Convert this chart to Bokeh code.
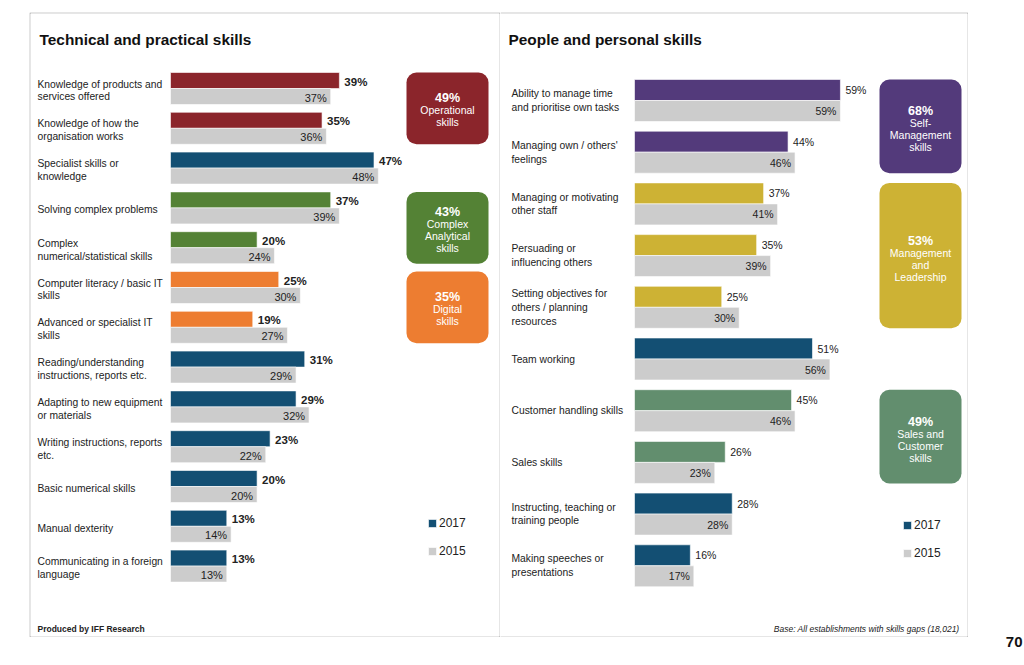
from bokeh.plotting import figure
from bokeh.models import Range1d, Legend, LegendItem
from bokeh.layouts import row
from bokeh.embed import file_html
from bokeh.resources import INLINE
from bokeh.core.properties import value

# ---------------- DATA ----------------
left_title = "Technical and practical skills"
left_categories = [
    "Knowledge of products and\nservices offered",
    "Knowledge of how the\norganisation works",
    "Specialist skills or\nknowledge",
    "Solving complex problems",
    "Complex\nnumerical/statistical skills",
    "Computer literacy / basic IT\nskills",
    "Advanced or specialist IT\nskills",
    "Reading/understanding\ninstructions, reports etc.",
    "Adapting to new equipment\nor materials",
    "Writing instructions, reports\netc.",
    "Basic numerical skills",
    "Manual dexterity",
    "Communicating in a foreign\nlanguage",
]
left_2017 = [39, 35, 47, 37, 20, 25, 19, 31, 29, 23, 20, 13, 13]
left_2015 = [37, 36, 48, 39, 24, 30, 27, 29, 32, 22, 20, 14, 13]
left_group_values = [49, 43, 35]
left_group_names = ["Operational\nskills", "Complex\nAnalytical\nskills", "Digital\nskills"]
left_group_rows = [(0, 1), (3, 4), (5, 6)]
left_footer = "Produced by IFF Research"

right_title = "People and personal skills"
right_categories = [
    "Ability to manage time\nand prioritise own tasks",
    "Managing own / others'\nfeelings",
    "Managing or motivating\nother staff",
    "Persuading or\ninfluencing others",
    "Setting objectives for\nothers / planning\nresources",
    "Team working",
    "Customer handling skills",
    "Sales skills",
    "Instructing, teaching or\ntraining people",
    "Making speeches or\npresentations",
]
right_2017 = [59, 44, 37, 35, 25, 51, 45, 26, 28, 16]
right_2015 = [59, 46, 41, 39, 30, 56, 46, 23, 28, 17]
right_group_values = [68, 53, 49]
right_group_names = ["Self-\nManagement\nskills", "Management\nand\nLeadership", "Sales and\nCustomer\nskills"]
right_group_rows = [(0, 1), (2, 4), (6, 7)]
right_footer = "Base: All establishments with skills gaps (18,021)"

series_names = ["2017", "2015"]
page_number = "70"

# ---------------- STYLES ----------------
FONT = "Liberation Sans"
RED = "#8B252B"
BLUE = "#134F73"
GREEN = "#548235"
ORANGE = "#ED7D31"
PURPLE = "#533A7B"
MUSTARD = "#CDB234"
SAGE = "#628E6E"
GRAY = "#CCCCCC"
TXT = "#222222"
BORDER = "#999999"

left_colors = [RED, RED, BLUE, GREEN, GREEN, ORANGE, ORANGE, BLUE, BLUE, BLUE, BLUE, BLUE, BLUE]
left_group_colors = [RED, GREEN, ORANGE]
right_colors = [PURPLE, PURPLE, MUSTARD, MUSTARD, MUSTARD, BLUE, SAGE, SAGE, BLUE, BLUE]
right_group_colors = [PURPLE, MUSTARD, SAGE]

left_geom = dict(fig_w=471, fig_h=625, mbl=1, frame_left=30, frame_top=13, frame_w=469, frame_h=623,
                 bar0=170, ppp=4.33, row0=88, pitch=39.8, bar_px=16,
                 label_x=37, label_size="10.3px", label_lh=1.17, label_dy=2,
                 v17_off=5, v17_size="11.5px", v17_style="bold", v15_off=-4, val_size="11px", val_dy=1,
                 title_x=39, title_y=39, footer_x=37, footer_y=628, footer_align="left", footer_style="bold",
                 box_x0=406, box_x1=488, box_dy=2, legend_loc=(397, 78), legend_index=2,
                 margin=(12, 0, 28, 29))
right_geom = dict(fig_w=468, fig_h=625, mbl=0, frame_left=500, frame_top=13, frame_w=467, frame_h=623,
                  bar0=634, ppp=3.49, row0=100, pitch=51.7, bar_px=21,
                  label_x=511, label_size="10.3px", label_lh=1.25, label_dy=0,
                  v17_off=5, v17_size="10.5px", v17_style="normal", v15_off=-4, val_size="10.5px", val_dy=0,
                  title_x=508, title_y=39, footer_x=959, footer_y=628, footer_align="right", footer_style="italic",
                  box_x0=879, box_x1=961, box_dy=3, legend_loc=(402, 76), legend_index=5,
                  margin=(12, 0, 28, 0))


def build_panel(title, cats, v17, v15, cols, gvals, gnames, grows, gcols, footer, g):
    b0, ppp, r0, pitch = g["bar0"], g["ppp"], g["row0"], g["pitch"]

    def dx(px):
        return (px - b0) / ppp

    def dy(py):
        return (py - r0) / pitch

    fl, ft, fw, fh = g["frame_left"], g["frame_top"], g["frame_w"], g["frame_h"]
    p = figure(width=g["fig_w"], height=g["fig_h"], title=None,
               x_range=Range1d(dx(fl), dx(fl + fw)),
               y_range=Range1d(dy(ft + fh), dy(ft)),
               output_backend="svg", toolbar_location=None,
               x_axis_location=None, y_axis_location=None,
               min_border_left=g["mbl"], min_border_right=1, min_border_top=1, min_border_bottom=1,
               border_fill_color=BORDER, background_fill_color="white", outline_line_color=None)
    p.xgrid.visible = False
    p.ygrid.visible = False
    p.margin = g["margin"]

    n = len(cats)
    idx = list(range(n))
    h = g["bar_px"] / pitch
    y17 = [i - h / 2 for i in idx]
    y15 = [i + h / 2 for i in idx]
    r17 = p.hbar(y=y17, left=0, right=v17, height=h, fill_color=cols, line_color="white", line_width=0.6)
    r15 = p.hbar(y=y15, left=0, right=v15, height=h, fill_color=GRAY, line_color="white", line_width=0.6)

    # category labels
    p.text(x=[dx(g["label_x"])] * n, y=[i + g["label_dy"] / pitch for i in idx], text=cats,
           text_font=value(FONT), text_font_size=g["label_size"], text_color=TXT,
           text_align="left", text_baseline="middle", text_line_height=g["label_lh"])

    # value labels
    p.text(x=[v + g["v17_off"] / ppp for v in v17], y=[y + g["val_dy"] / pitch for y in y17],
           text=[f"{v}%" for v in v17], text_font=value(FONT), text_font_size=g["v17_size"],
           text_font_style=g["v17_style"], text_color=TXT, text_align="left", text_baseline="middle")
    p.text(x=[v + g["v15_off"] / ppp for v in v15], y=[y + g["val_dy"] / pitch for y in y15],
           text=[f"{v}%" for v in v15], text_font=value(FONT), text_font_size=g["val_size"],
           text_color=TXT, text_align="right", text_baseline="middle")

    # group boxes
    tops = [a - h for a, b in grows]
    bottoms = [b + h for a, b in grows]
    p.quad(left=[dx(g["box_x0"])] * len(gvals), right=[dx(g["box_x1"])] * len(gvals),
           top=tops, bottom=bottoms, fill_color=gcols, line_color=None, border_radius=10)
    cx = dx((g["box_x0"] + g["box_x1"]) / 2)
    for val, name, t, b in zip(gvals, gnames, tops, bottoms):
        lines = name.split("\n")
        nl = len(lines) + 1
        cy = (t + b) / 2 + g["box_dy"] / pitch
        ys = [cy + (k - (nl - 1) / 2) * 12 / pitch for k in range(nl)]
        p.text(x=[cx], y=[ys[0]], text=[f"{val}%"], text_font=value(FONT), text_font_size="12.5px",
               text_font_style="bold", text_color="white", text_align="center", text_baseline="middle")
        p.text(x=[cx] * len(lines), y=ys[1:], text=lines, text_font=value(FONT), text_font_size="10.5px",
               text_color="white", text_align="center", text_baseline="middle")

    # title and footer
    p.text(x=[dx(g["title_x"])], y=[dy(g["title_y"])], text=[title], text_font=value(FONT),
           text_font_size="15.4px", text_font_style="bold", text_color="#111111",
           text_align="left", text_baseline="middle")
    p.text(x=[dx(g["footer_x"])], y=[dy(g["footer_y"])], text=[footer], text_font=value(FONT),
           text_font_size="8.5px", text_font_style=g["footer_style"], text_color=TXT,
           text_align=g["footer_align"], text_baseline="middle")

    legend = Legend(items=[LegendItem(label=series_names[0], renderers=[r17], index=g["legend_index"]),
                           LegendItem(label=series_names[1], renderers=[r15], index=0)],
                    location=g["legend_loc"], background_fill_alpha=0, border_line_color=None,
                    padding=0, margin=0, spacing=14, glyph_width=10, glyph_height=10,
                    label_height=14, label_standoff=2, label_text_font=FONT,
                    label_text_font_size="12px", label_text_color=TXT)
    p.add_layout(legend)
    return p


left = build_panel(left_title, left_categories, left_2017, left_2015, left_colors,
                   left_group_values, left_group_names, left_group_rows, left_group_colors,
                   left_footer, left_geom)
right = build_panel(right_title, right_categories, right_2017, right_2015, right_colors,
                    right_group_values, right_group_names, right_group_rows, right_group_colors,
                    right_footer, right_geom)

pg = figure(width=56, height=665, title=None, x_range=Range1d(0, 56), y_range=Range1d(665, 0),
            output_backend="svg", toolbar_location=None, x_axis_location=None, y_axis_location=None,
            min_border=0, outline_line_color=None)
pg.xgrid.visible = False
pg.ygrid.visible = False
pg.text(x=[54], y=[642], text=[page_number], text_font=value(FONT), text_font_size="15px",
        text_font_style="bold", text_color="#111111", text_align="right", text_baseline="middle")

layout = row(left, right, pg)
open("out.html", "w").write(file_html(layout, INLINE))
